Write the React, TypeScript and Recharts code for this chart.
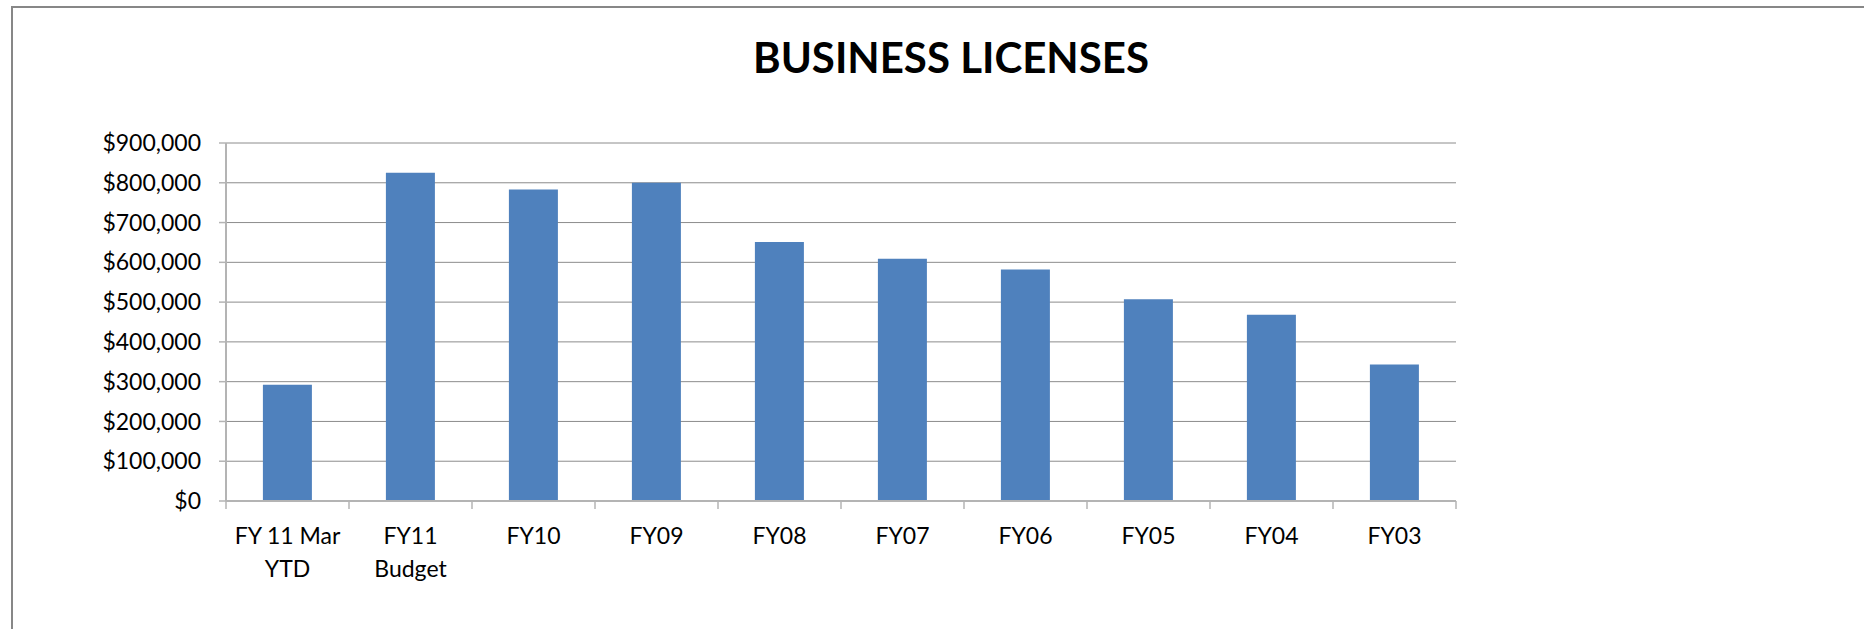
import React from "react";
import { BarChart, Bar, XAxis, YAxis, CartesianGrid } from "recharts";

const CATEGORIES = [
    "FY 11 Mar\nYTD", "FY11\nBudget", "FY10", "FY09", "FY08",
    "FY07", "FY06", "FY05", "FY04", "FY03",
];
const LICENSE_REVENUE = [
    292000, 825000, 783000, 800000, 651000,
    609000, 582000, 507000, 468000, 343000,
];
const Y_TICKS = [0, 100000, 200000, 300000, 400000, 500000, 600000, 700000, 800000, 900000];

const FONT = "Lato, 'Open Sans', sans-serif";
const BAR_COLOR = "#4f81bd";
const GRID_COLOR = "#8c8c8c";
const AXIS_COLOR = "#b4b4b4";
const X_TICK_SIZE = 8;
const X_TICK_MARGIN = 35;

const chartData = CATEGORIES.map((name, i) => ({ name, value: LICENSE_REVENUE[i] }));

const formatDollars = (v: number) => `$${v.toLocaleString("en-US")}`;

// category labels sit in the band, tick marks sit on the band edges
function CategoryTick(props: any) {
    const { x, y, payload, index, width, visibleTicksCount } = props;
    const half = width / visibleTicksCount / 2;
    const lineTop = y - X_TICK_MARGIN - X_TICK_SIZE;
    const lineBottom = y - X_TICK_MARGIN;
    const lines = String(payload.value).split("\n");
    const isLast = index === visibleTicksCount - 1;
    return (
        <g>
            <line x1={x - half} x2={x - half} y1={lineTop} y2={lineBottom} stroke={AXIS_COLOR} strokeWidth={1.5} />
            {isLast && (
                <line x1={x + half} x2={x + half} y1={lineTop} y2={lineBottom} stroke={AXIS_COLOR} strokeWidth={1.5} />
            )}
            <text x={x} y={y} textAnchor="middle" fontFamily={FONT} fontSize={23} fill="#000">
                {lines.map((ln, i) => (
                    <tspan key={i} x={x} dy={i === 0 ? 0 : 33}>
                        {ln}
                    </tspan>
                ))}
            </text>
        </g>
    );
}

export default function App() {
    return (
        <div style={{ position: "absolute", left: 0, top: 0, width: 1864, height: 629, overflow: "hidden", background: "#fff" }}>
            <div
                style={{
                    position: "absolute", left: 11, top: 6, width: 1900, height: 700,
                    border: "2px solid #878787", boxSizing: "border-box",
                }}
            />
            <div
                style={{
                    position: "absolute", left: 0, top: 32, width: 1902, textAlign: "center",
                    fontFamily: FONT, fontWeight: 700, fontSize: 42, lineHeight: "50px", color: "#000",
                }}
            >
                BUSINESS LICENSES
            </div>
            <div style={{ position: "absolute", left: 0, top: 0 }}>
                <BarChart
                    width={1864}
                    height={629}
                    data={chartData}
                    margin={{ top: 143, right: 408, bottom: 28, left: 16 }}
                    barCategoryGap="30%"
                >
                    <CartesianGrid horizontal vertical={false} stroke={GRID_COLOR} strokeWidth={1} />
                    <XAxis
                        dataKey="name"
                        height={100}
                        interval={0}
                        axisLine={{ stroke: AXIS_COLOR, strokeWidth: 2 }}
                        tickLine={false}
                        tickSize={X_TICK_SIZE}
                        tickMargin={X_TICK_MARGIN}
                        tick={<CategoryTick />}
                    />
                    <YAxis
                        width={210}
                        domain={[0, 900000]}
                        ticks={Y_TICKS}
                        tickFormatter={formatDollars}
                        axisLine={{ stroke: AXIS_COLOR, strokeWidth: 2 }}
                        tickLine={{ stroke: AXIS_COLOR, strokeWidth: 1.5 }}
                        tickSize={7}
                        tickMargin={18}
                        tick={{ fontFamily: FONT, fontSize: 23, fill: "#000" }}
                    />
                    <Bar dataKey="value" fill={BAR_COLOR} isAnimationActive={false} />
                </BarChart>
            </div>
        </div>
    );
}
